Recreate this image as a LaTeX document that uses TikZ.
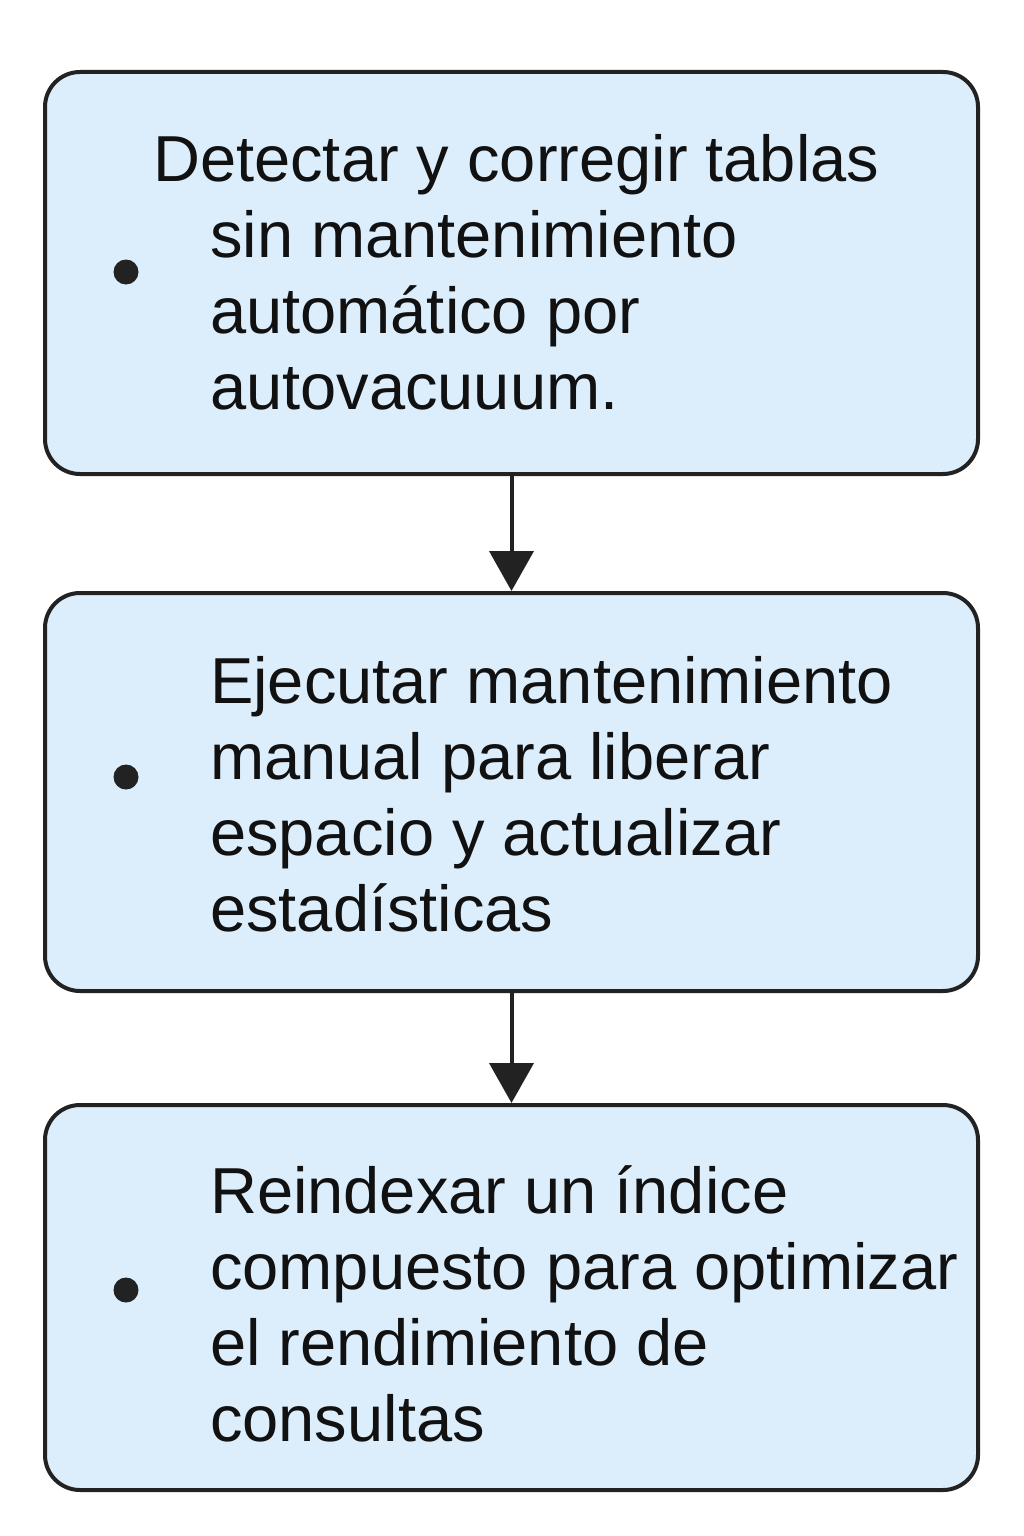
\documentclass[tikz,border=0pt]{standalone}
\usepackage{fontspec}
\setmainfont{Liberation Sans}
\usetikzlibrary{arrows.meta}
\definecolor{boxfill}{HTML}{DCEEFC}
\definecolor{boxline}{HTML}{222222}
\definecolor{inktext}{HTML}{111111}
\tikzset{
  stepbox/.style={draw=boxline, fill=boxfill, line width=4pt, rounded corners=35pt, rectangle, inner sep=0pt},
  bulletdot/.style={circle, fill=boxline, draw=none, minimum size=25pt, inner sep=0pt},
  txt/.style={inner sep=0pt, anchor=base west, text=inktext, font=\fontsize{65}{76}\selectfont},
  flow/.style={draw=boxline, line width=4pt, -{Triangle[length=40pt,width=44pt]}}
}
\newcommand{\boxtext}[1]{\parbox[t]{800pt}{\raggedright #1}}
\begin{document}
\begin{tikzpicture}[x=1pt,y=-1pt]
\useasboundingbox (0,0) rectangle (1024,1536);
\node[stepbox, minimum width=933pt, minimum height=402pt] (b1) at (511.5,273) {};
\node[stepbox, minimum width=933pt, minimum height=398pt] (b2) at (511.5,792) {};
\node[stepbox, minimum width=933pt, minimum height=385pt] (b3) at (511.5,1297.5) {};
\node[bulletdot] (d1) at (126,272) {};
\node[bulletdot] (d2) at (126,777) {};
\node[bulletdot] (d3) at (126,1290) {};
\node[txt] (t1) at (210,181) {\boxtext{\hspace*{-57pt}Detectar y corregir tablas\\sin mantenimiento\\automático por\\autovacuuum.}};
\node[txt] (t2) at (210,703) {\boxtext{Ejecutar mantenimiento\\manual para liberar\\espacio y actualizar\\estadísticas}};
\node[txt] (t3) at (210,1213) {\boxtext{Reindexar un índice\\compuesto para optimizar\\el rendimiento de\\consultas}};
\draw[flow] (b1.south) -- (b2.north);
\draw[flow] (b2.south) -- (b3.north);
\end{tikzpicture}
\end{document}
